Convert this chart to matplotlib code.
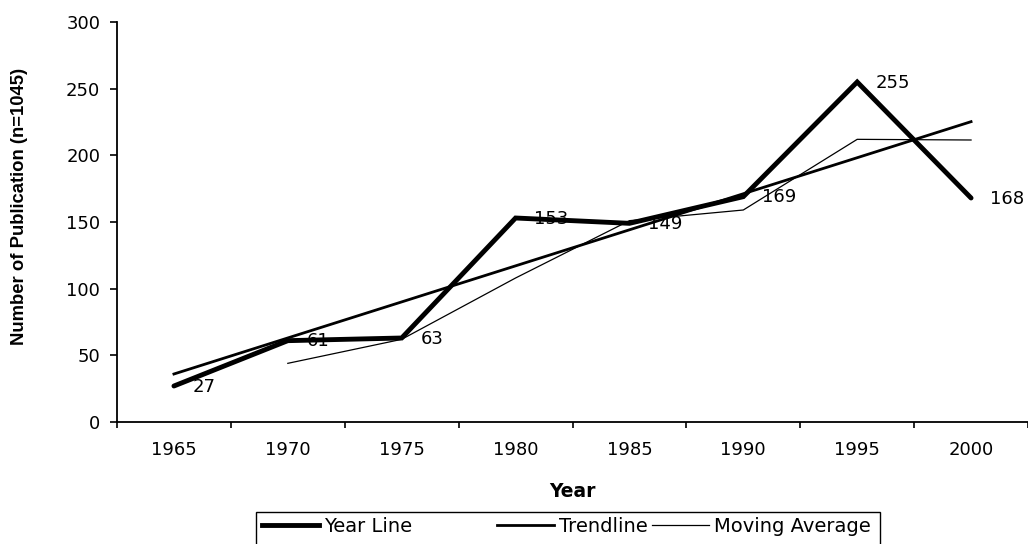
import numpy as np
import matplotlib.pyplot as plt
from matplotlib.lines import Line2D
from matplotlib.patches import Rectangle
from matplotlib.ticker import FixedLocator

plt.rcParams["font.family"] = ["DejaVu Sans"]

years = ["1965", "1970", "1975", "1980", "1985", "1990", "1995", "2000"]
counts = [27, 61, 63, 153, 149, 169, 255, 168]

x = np.arange(len(years))
y = np.array(counts, dtype=float)

# linear trendline and 2-period moving average, derived from the counts
slope, intercept = np.polyfit(x, y, 1)
trend = slope * x + intercept
mov_avg = (y[1:] + y[:-1]) / 2.0

W, H = 1028, 544
fig = plt.figure(figsize=(W / 100, H / 100), dpi=100)
ax = fig.add_axes([117 / W, 1 - 422 / H, 911 / W, 400 / H])

ax.plot(x, y, color="black", linewidth=3.5, solid_capstyle="round", solid_joinstyle="miter")
ax.plot(x, trend, color="black", linewidth=2.0)
ax.plot(x[1:], mov_avg, color="black", linewidth=0.9)

for xi, yi in zip(x, counts):
    ax.annotate(str(yi), (xi, yi), xytext=(13.5, -0.5), textcoords="offset points",
                ha="left", va="center", fontsize=13)

ax.set_xlim(-0.5, len(years) - 0.5)
ax.set_ylim(0, 300)
ax.set_yticks(range(0, 301, 50))
ax.set_xticks(x)
ax.set_xticklabels(years)
ax.xaxis.set_minor_locator(FixedLocator(np.arange(-0.5, len(years), 1.0)))
ax.tick_params(axis="x", which="major", length=0, pad=14, labelsize=13)
ax.tick_params(axis="x", which="minor", length=4, width=1.2, direction="out")
ax.tick_params(axis="y", length=5, width=1.2, direction="out", labelsize=13, pad=7)

for side in ["top", "right"]:
    ax.spines[side].set_visible(False)
for side in ["left", "bottom"]:
    ax.spines[side].set_linewidth(1.3)

ax.set_xlabel("Year", fontsize=13.5, fontweight="bold")
ax.xaxis.set_label_coords(0.5, -0.15)
ax.set_ylabel("Number of Publication (n=1045)", fontsize=13.3, fontweight="bold",
              family="Liberation Sans")
ax.yaxis.set_label_coords(-0.098, 0.54)

# legend box (Excel-style, spacing uneven) drawn as frame + one entry per slot
fig.patches.append(Rectangle((256 / W, -0.02), 624 / W, (1 - 512 / H) + 0.02,
                             transform=fig.transFigure, fill=False,
                             edgecolor="black", linewidth=1.0))
entries = [("Year Line", 3.5, 262), ("Trendline", 2.0, 497), ("Moving Average", 0.9, 652)]
for label, lw, left in entries:
    handle = Line2D([], [], color="black", linewidth=lw)
    fig.legend(handles=[handle], labels=[label], loc="center left",
               bbox_to_anchor=(left / W, 1 - 526 / H), frameon=False, fontsize=14,
               handlelength=2.95, handletextpad=0.25, borderpad=0, borderaxespad=0)

fig.savefig("out.png", dpi=100)
